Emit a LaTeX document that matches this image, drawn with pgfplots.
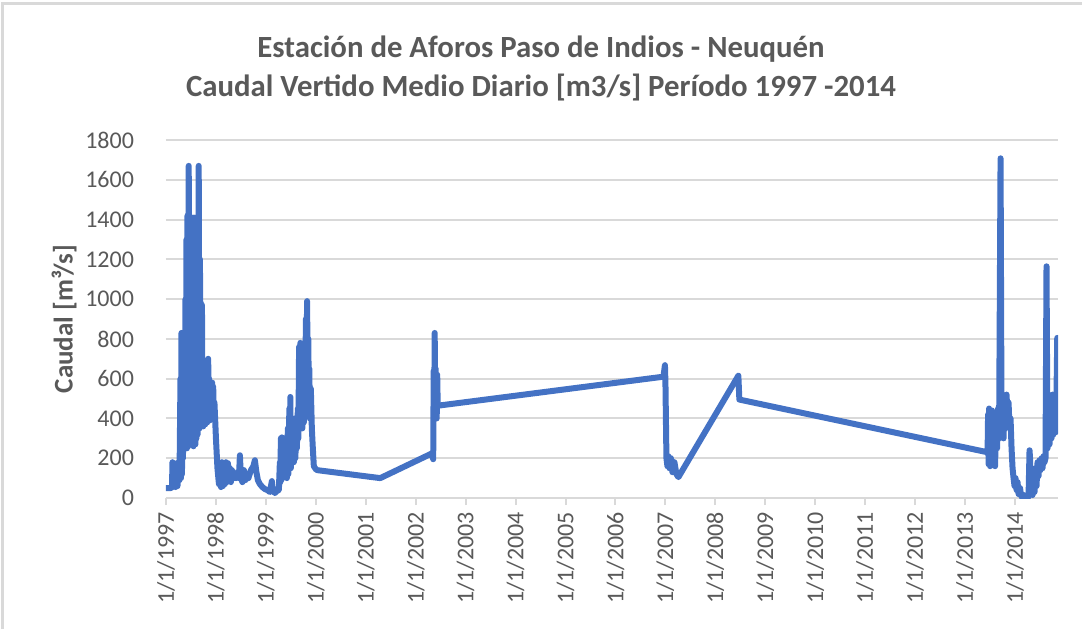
\documentclass[border=0pt]{standalone}
\usepackage{fontspec}
\setmainfont{Carlito}
\usepackage{pgfplots}
\pgfplotsset{compat=1.18}
\definecolor{txt}{HTML}{595959}
\definecolor{gridc}{HTML}{D9D9D9}
\definecolor{serie}{HTML}{4472C4}
\begin{document}
\begin{tikzpicture}
\path[use as bounding box] (-83pt,-65.5pt) rectangle (458pt,249pt);
\draw[gridc, line width=1.5pt] (-81.5pt,-65.5pt) -- (-81.5pt,247.5pt) -- (458pt,247.5pt);
\begin{axis}[
  width=446pt, height=179pt, scale only axis,
  xmin=1997, xmax=2014.86, ymin=0, ymax=1800,
  ytick={0,200,...,1800},
  xtick={1997,...,2014},
  xticklabels={1/1/1997,1/1/1998,1/1/1999,1/1/2000,1/1/2001,1/1/2002,1/1/2003,1/1/2004,1/1/2005,1/1/2006,1/1/2007,1/1/2008,1/1/2009,1/1/2010,1/1/2011,1/1/2012,1/1/2013,1/1/2014},
  axis x line*=bottom, axis y line*=left,
  x axis line style={gridc, line width=1pt, -},
  y axis line style={draw=none},
  ymajorgrids, grid style={gridc, line width=1pt},
  tick align=outside, major tick length=3.5pt,
  xtick style={gridc, line width=1pt},
  ytick style={draw=none},
  /pgf/number format/1000 sep={},
  /pgf/number format/assume math mode=true,
  yticklabel style={font=\fontsize{12}{14}\selectfont, text=txt, xshift=-9pt},
  xticklabel style={font=\fontsize{12}{14}\selectfont, text=txt, rotate=90, anchor=east},
  ylabel={Caudal [m³/s]},
  every axis y label/.style={at={(axis description cs:-0.1143,0.5)}, rotate=90, anchor=center, font=\fontsize{13.5}{16}\selectfont\bfseries, text=txt},
  title={Estación de Aforos Paso de Indios - Neuquén\\Caudal Vertido Medio Diario [m3/s] Período 1997 -2014},
  title style={at={(axis description cs:0.4204,1.166)}, anchor=center, align=center, font=\fontsize{15.4}{19.5}\selectfont\bfseries, text=txt},
]
\addplot[serie, line width=3pt, line join=round, line cap=round] coordinates {
(1997.00,50) (1997.10,50) (1997.12,55) (1997.13,180) (1997.15,60) (1997.17,175) (1997.19,55) (1997.21,170) (1997.23,60) (1997.25,180)
(1997.27,90) (1997.29,600) (1997.30,100) (1997.31,830) (1997.32,120) (1997.33,820) (1997.34,200) (1997.35,780) (1997.36,250) (1997.37,830)
(1997.38,250) (1997.39,1000) (1997.40,260) (1997.41,1300) (1997.42,250) (1997.43,1420) (1997.445,260) (1997.455,1670) (1997.47,270) (1997.48,1410)
(1997.49,300) (1997.50,1400) (1997.51,280) (1997.52,1410) (1997.53,300) (1997.54,1380) (1997.55,260) (1997.56,1410) (1997.57,300) (1997.58,1400)
(1997.59,270) (1997.60,1410) (1997.61,300) (1997.62,1300) (1997.635,320) (1997.655,1670) (1997.67,350) (1997.68,1200) (1997.69,360) (1997.70,980)
(1997.71,380) (1997.72,970) (1997.73,400) (1997.74,600) (1997.745,360) (1997.755,620) (1997.765,380) (1997.775,600) (1997.785,370) (1997.795,550)
(1997.805,380) (1997.815,620) (1997.825,380) (1997.835,650) (1997.845,700) (1997.855,400) (1997.865,600) (1997.875,390) (1997.885,580) (1997.895,400)
(1997.905,570) (1997.915,410) (1997.925,580) (1997.935,420) (1997.945,560) (1997.955,430) (1997.97,480) (1998.00,300) (1998.03,150) (1998.06,70) (1998.08,100) (1998.10,55) (1998.12,180)
(1998.14,60) (1998.16,170) (1998.18,70) (1998.20,180) (1998.22,80) (1998.24,175) (1998.26,90) (1998.28,150) (1998.30,80) (1998.32,140)
(1998.35,100) (1998.38,120) (1998.40,100) (1998.43,130) (1998.46,100) (1998.48,215) (1998.50,100) (1998.53,80) (1998.56,140) (1998.59,90)
(1998.62,120) (1998.65,100) (1998.70,140) (1998.75,160) (1998.78,190) (1998.81,130) (1998.84,90) (1998.88,70) (1998.93,55) (1998.98,45)
(1999.03,40) (1999.08,30) (1999.12,85) (1999.14,40) (1999.18,25) (1999.22,35) (1999.26,40) (1999.28,180) (1999.29,80) (1999.30,300)
(1999.31,90) (1999.32,305) (1999.33,100) (1999.35,250) (1999.36,120) (1999.38,300) (1999.39,150) (1999.41,250) (1999.42,100) (1999.44,350)
(1999.45,120) (1999.47,450) (1999.48,200) (1999.49,508) (1999.50,150) (1999.52,400) (1999.53,200) (1999.55,300) (1999.56,180) (1999.58,400)
(1999.59,200) (1999.61,380) (1999.62,250) (1999.64,450) (1999.65,300) (1999.665,760) (1999.68,350) (1999.69,780) (1999.70,400) (1999.72,600)
(1999.73,350) (1999.75,500) (1999.76,380) (1999.78,700) (1999.79,420) (1999.80,900) (1999.81,450) (1999.825,990) (1999.84,500) (1999.85,800)
(1999.86,450) (1999.87,650) (1999.88,400) (1999.90,550) (1999.92,350) (1999.94,250) (1999.96,160) (2000.00,145) (2000.03,140)
(2001.29,100) (2002.33,225) (2002.35,195) (2002.36,640) (2002.37,400) (2002.38,830) (2002.39,420) (2002.40,650) (2002.41,450) (2002.42,400)
(2002.43,620) (2002.44,470) (2002.47,465)
(2006.96,610) (2006.99,668) (2007.00,580) (2007.02,200) (2007.04,160) (2007.06,210) (2007.08,150) (2007.11,200) (2007.14,130) (2007.18,180)
(2007.22,120) (2007.26,105) (2008.46,615) (2008.48,495)
(2013.45,230) (2013.46,420) (2013.47,170) (2013.48,450) (2013.50,160) (2013.51,400) (2013.53,200) (2013.54,440) (2013.56,170) (2013.58,300)
(2013.60,160) (2013.62,420) (2013.64,250) (2013.66,450) (2013.68,300) (2013.71,1708) (2013.73,320) (2013.75,520) (2013.77,300) (2013.79,500)
(2013.81,380) (2013.83,520) (2013.85,400) (2013.87,480) (2013.89,350) (2013.91,400) (2013.93,250) (2013.95,150) (2013.97,100) (2013.99,60)
(2014.01,100) (2014.03,40) (2014.05,80) (2014.07,20) (2014.10,50) (2014.12,10) (2014.15,5) (2014.18,15) (2014.21,5) (2014.24,10)
(2014.27,5) (2014.29,240) (2014.30,200) (2014.31,20) (2014.33,40) (2014.35,15) (2014.37,100) (2014.39,30) (2014.41,150) (2014.43,60)
(2014.45,180) (2014.47,110) (2014.49,190) (2014.51,140) (2014.53,200) (2014.55,150) (2014.57,210) (2014.59,180) (2014.61,200) (2014.63,1165)
(2014.65,250) (2014.67,350) (2014.69,270) (2014.71,400) (2014.73,300) (2014.75,520) (2014.77,320) (2014.79,450) (2014.81,330) (2014.83,520)
(2014.845,805) (2014.855,340)
};
\end{axis}
\end{tikzpicture}
\end{document}
